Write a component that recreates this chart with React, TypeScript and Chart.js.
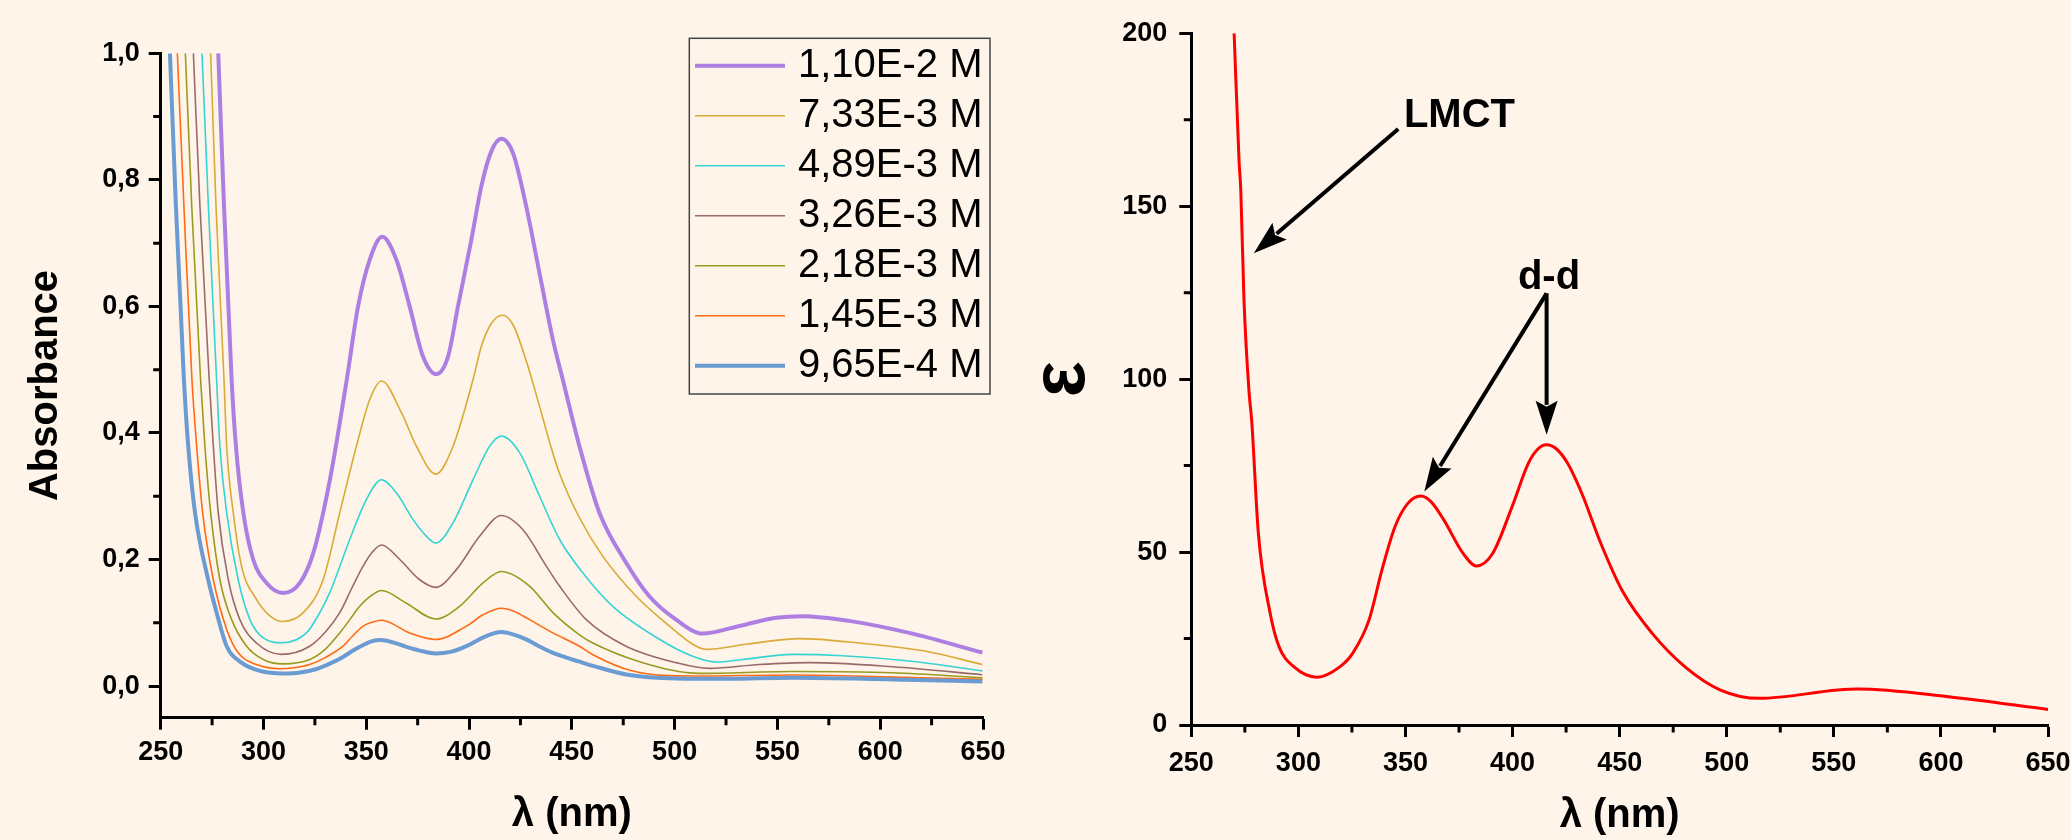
import React, { useEffect, useRef } from 'react';
import { Chart, registerables } from 'chart.js';

Chart.register(...registerables);

const FONT = '"Liberation Sans", Arial, Helvetica, sans-serif';
const W = 2071;
const H = 840;
const BG = '#fef4e9';

// ---------- Left chart data: absorbance vs wavelength ----------
const SERIES_LABELS = ['1,10E-2 M', '7,33E-3 M', '4,89E-3 M', '3,26E-3 M', '2,18E-3 M', '1,45E-3 M', '9,65E-4 M'];

const wl_1_10e2 = [278.0, 280.8, 284.5, 286.6, 290.2, 295, 301.5, 309.6, 317.7, 324.2, 332.3, 340.5, 346, 351.7, 357.8, 364.6, 371.1, 377.6, 384.1, 389.8, 394.6, 401.1, 406, 410.8, 415.7, 421.4, 427.8, 434.3, 440.8, 445.6, 453.7, 463.4, 476.4, 487.7, 500.7, 513.6, 531.5, 549.3, 562.2, 584.9, 614.1, 649.7];
const abs_1_10e2 = [1.0, 0.758, 0.484, 0.379, 0.274, 0.2, 0.163, 0.147, 0.163, 0.21, 0.326, 0.484, 0.6, 0.674, 0.71, 0.674, 0.6, 0.521, 0.493, 0.521, 0.6, 0.705, 0.79, 0.845, 0.865, 0.842, 0.758, 0.652, 0.547, 0.484, 0.379, 0.274, 0.195, 0.142, 0.105, 0.083, 0.095, 0.108, 0.1105, 0.103, 0.084, 0.053];

const wl_7_33e3 = [274.3, 276.9, 280.8, 282.1, 285.3, 289.3, 296.6, 303.1, 309.3, 319.3, 329, 337.1, 345.2, 351.7, 357.4, 367.1, 374.4, 383.8, 392.2, 401.9, 406, 410.8, 416.2, 421.4, 427.8, 434.3, 439.2, 444, 453.7, 465.1, 481.3, 497.4, 508.8, 515.3, 534.7, 560.6, 589.8, 622.2, 649.7];
const abs_7_33e3 = [1.0, 0.758, 0.484, 0.379, 0.274, 0.19, 0.137, 0.111, 0.102, 0.116, 0.168, 0.274, 0.379, 0.453, 0.482, 0.432, 0.379, 0.335, 0.379, 0.484, 0.537, 0.573, 0.586, 0.571, 0.514, 0.442, 0.385, 0.336, 0.266, 0.205, 0.142, 0.095, 0.066, 0.058, 0.066, 0.075, 0.068, 0.055, 0.034];

const wl_4_89e3 = [270.1, 273.2, 277.2, 278.8, 282.1, 287.7, 293.4, 299.9, 309.3, 320.9, 326, 332.3, 337, 342, 350.1, 357.4, 364.7, 372.8, 379.2, 383.8, 392.2, 401.9, 410, 415.7, 424.6, 434.3, 444, 455.3, 469.9, 492.6, 508.8, 520.1, 533.1, 557.4, 581.7, 614.1, 649.7];
const abs_4_89e3 = [1.0, 0.758, 0.484, 0.379, 0.274, 0.168, 0.105, 0.076, 0.0685, 0.084, 0.108, 0.148, 0.188, 0.232, 0.295, 0.326, 0.305, 0.263, 0.237, 0.226, 0.258, 0.326, 0.379, 0.395, 0.369, 0.3, 0.232, 0.179, 0.126, 0.074, 0.047, 0.038, 0.042, 0.05, 0.048, 0.0395, 0.024];

const wl_3_26e3 = [265.9, 269.1, 273.6, 275.6, 278, 282.9, 288.5, 296.6, 308.8, 322.5, 330, 337.1, 343, 348.5, 353, 357.4, 366.3, 376, 383.8, 393.8, 405.2, 415.7, 426.2, 437.5, 444, 457, 476.4, 500.7, 516.9, 541.2, 565.5, 606, 649.7];
const abs_3_26e3 = [1.0, 0.758, 0.484, 0.379, 0.274, 0.168, 0.105, 0.068, 0.05, 0.063, 0.085, 0.116, 0.155, 0.19, 0.212, 0.223, 0.2, 0.168, 0.156, 0.184, 0.237, 0.2695, 0.247, 0.19, 0.158, 0.105, 0.063, 0.037, 0.028, 0.034, 0.037, 0.0305, 0.018];

const wl_2_18e3 = [262, 265.1, 269.4, 271.5, 274.3, 278.8, 284.5, 291.8, 299.9, 309.3, 322.5, 330, 337.1, 342, 346.8, 352, 357.4, 369.5, 383.8, 395.4, 406.8, 415.7, 429.4, 440.8, 453.7, 460.2, 484.5, 512, 557.4, 606, 649.7];
const abs_2_18e3 = [1.0, 0.758, 0.484, 0.379, 0.274, 0.168, 0.105, 0.063, 0.042, 0.035, 0.042, 0.058, 0.084, 0.105, 0.126, 0.142, 0.151, 0.131, 0.106, 0.126, 0.163, 0.181, 0.158, 0.116, 0.081, 0.068, 0.037, 0.02, 0.023, 0.021, 0.013];

const wl_1_45e3 = [258.1, 261.3, 265.2, 267.5, 270.4, 275.6, 282.1, 287.7, 296.6, 308, 315, 322.5, 330, 338.7, 343, 348.5, 352, 357.4, 371.1, 383.8, 398.7, 407, 415.7, 422, 429.4, 440.8, 453.7, 460.2, 479.6, 508.8, 557.4, 606, 649.7];
const abs_1_45e3 = [1.0, 0.758, 0.484, 0.379, 0.274, 0.168, 0.0895, 0.0526, 0.034, 0.0274, 0.029, 0.034, 0.045, 0.063, 0.078, 0.0947, 0.1, 0.104, 0.084, 0.0737, 0.0947, 0.113, 0.123, 0.118, 0.105, 0.084, 0.063, 0.0495, 0.0237, 0.0158, 0.0174, 0.0142, 0.0105];

const wl_9_65e4 = [254.5, 257.4, 261.3, 263.4, 266.7, 273.1, 277.2, 282.1, 289.3, 298.3, 309.6, 318, 325.8, 332, 338.7, 344, 348.5, 352.5, 357, 363, 369.5, 376, 383.8, 391, 398.7, 407, 415.7, 421, 427.8, 434, 440.8, 447, 453.7, 460.2, 476.4, 500.7, 525, 557.4, 606, 649.7];
const abs_9_65e4 = [1.0, 0.758, 0.484, 0.379, 0.274, 0.168, 0.116, 0.063, 0.037, 0.024, 0.02, 0.0215, 0.027, 0.035, 0.046, 0.057, 0.065, 0.0705, 0.0727, 0.069, 0.062, 0.056, 0.0516, 0.054, 0.063, 0.077, 0.0853, 0.082, 0.0737, 0.063, 0.0526, 0.0455, 0.0385, 0.032, 0.0184, 0.0121, 0.0116, 0.0132, 0.0105, 0.0074];

// ---------- Right chart data: molar absorptivity ----------
const wl_eps = [270, 272.3, 273.1, 274.6, 277, 278.2, 281.3, 286.8, 291, 298, 308.7, 319.3, 325.4, 333, 339, 345.1, 351, 357.2, 362, 367.9, 376.9, 383.1, 390.7, 399.7, 407.4, 411.5, 415.9, 420.5, 425.7, 429.5, 433.3, 440.9, 451.5, 465.2, 480.4, 497.1, 515.3, 551.8, 561, 603.5, 650];
const eps = [200, 163, 154.7, 122.9, 96, 88, 55.5, 32.4, 22.6, 16.8, 13.8, 16.8, 20.8, 30.4, 44.8, 57.3, 64, 66.2, 64.5, 59.3, 49.6, 46.0, 49.6, 63, 75.7, 79.6, 81, 79.8, 75.7, 71, 65.5, 53, 38.5, 26.5, 16.9, 10.1, 7.7, 10.1, 10.4, 8.2, 4.5];

// ---------- Ticks ----------
const X_TICKS = [250, 300, 350, 400, 450, 500, 550, 600, 650];
const X_MINOR = [275, 325, 375, 425, 475, 525, 575, 625];
const Y_LEFT_TICKS = [0, 0.2, 0.4, 0.6, 0.8, 1.0];
const Y_LEFT_MINOR = [0.1, 0.3, 0.5, 0.7, 0.9];
const Y_RIGHT_TICKS = [0, 50, 100, 150, 200];
const Y_RIGHT_MINOR = [25, 75, 125, 175];

// ---------- Annotations (data units of right chart) ----------
const NOTE_TEXT = ['LMCT', 'd-d'];
const NOTE_X = [375.2, 417.0];
const NOTE_Y = [176.1, 129.4];
const ARROW_X0 = [346.6, 415.9, 415.9];
const ARROW_Y0 = [172.3, 124.8, 124.8];
const ARROW_X1 = [279.2, 415.9, 358.8];
const ARROW_Y1 = [136.4, 83.9, 67.5];

const COLORS = ['#ad7fe3', '#d9aa35', '#35d4d4', '#9a6a6a', '#9a9a1e', '#ff6a13', '#6a9bd3'];
const WIDTHS = [4, 1.6, 1.6, 1.6, 1.6, 1.6, 4];
const ORDERS = [0, 2, 3, 4, 5, 6, 1];

const pts = (xs: number[], ys: number[]) => xs.map((x, i) => ({ x, y: ys[i] }));

const LEFT_WL = [wl_1_10e2, wl_7_33e3, wl_4_89e3, wl_3_26e3, wl_2_18e3, wl_1_45e3, wl_9_65e4];
const LEFT_ABS = [abs_1_10e2, abs_7_33e3, abs_4_89e3, abs_3_26e3, abs_2_18e3, abs_1_45e3, abs_9_65e4];

const minorTicks = {
  id: 'minorTicks',
  afterDraw(chart: any, _args: any, opts: any) {
    const ctx = chart.ctx;
    const xs = chart.scales.x;
    const ys = chart.scales.y;
    const ca = chart.chartArea;
    ctx.save();
    ctx.strokeStyle = '#000';
    ctx.lineWidth = 3;
    ctx.beginPath();
    for (const v of opts.x || []) {
      const px = xs.getPixelForValue(v);
      ctx.moveTo(px, ca.bottom);
      ctx.lineTo(px, ca.bottom + 7.5);
    }
    for (const v of opts.y || []) {
      const py = ys.getPixelForValue(v);
      ctx.moveTo(ca.left, py);
      ctx.lineTo(ca.left - 7.5, py);
    }
    ctx.stroke();
    ctx.restore();
  },
};

const boxLegend = {
  id: 'boxLegend',
  afterDraw(chart: any, _args: any, opts: any) {
    if (!opts || !opts.show) return;
    const ctx = chart.ctx;
    const { left, top, right, bottom, rowH, lineX0, lineX1, textX } = opts;
    ctx.save();
    ctx.strokeStyle = '#444';
    ctx.lineWidth = 1.5;
    ctx.strokeRect(left, top, right - left, bottom - top);
    ctx.font = `40px ${FONT}`;
    ctx.fillStyle = '#000';
    ctx.textBaseline = 'middle';
    ctx.textAlign = 'left';
    chart.data.datasets.forEach((ds: any, i: number) => {
      const y = top + rowH * 0.55 + i * rowH;
      ctx.strokeStyle = ds.borderColor;
      ctx.lineWidth = ds.borderWidth;
      ctx.beginPath();
      ctx.moveTo(lineX0, y);
      ctx.lineTo(lineX1, y);
      ctx.stroke();
      ctx.fillText(ds.label, textX, y);
    });
    ctx.restore();
  },
};

const notes = {
  id: 'notes',
  afterDraw(chart: any, _args: any, opts: any) {
    if (!opts || !opts.show) return;
    const ctx = chart.ctx;
    const xs = chart.scales.x;
    const ys = chart.scales.y;
    ctx.save();
    ctx.fillStyle = '#000';
    ctx.strokeStyle = '#000';
    ctx.font = `bold 40px ${FONT}`;
    ctx.textAlign = 'center';
    ctx.textBaseline = 'middle';
    NOTE_TEXT.forEach((t, i) => {
      ctx.fillText(t, xs.getPixelForValue(NOTE_X[i]), ys.getPixelForValue(NOTE_Y[i]));
    });
    const headLen = 34;
    const headHalf = 11;
    ctx.lineWidth = 4;
    ARROW_X0.forEach((_, i) => {
      const x0 = xs.getPixelForValue(ARROW_X0[i]);
      const y0 = ys.getPixelForValue(ARROW_Y0[i]);
      const x1 = xs.getPixelForValue(ARROW_X1[i]);
      const y1 = ys.getPixelForValue(ARROW_Y1[i]);
      const dx = x1 - x0;
      const dy = y1 - y0;
      const len = Math.hypot(dx, dy);
      const ux = dx / len;
      const uy = dy / len;
      const bx = x1 - ux * headLen;
      const by = y1 - uy * headLen;
      ctx.beginPath();
      ctx.moveTo(x0, y0);
      ctx.lineTo(bx + ux * 4, by + uy * 4);
      ctx.stroke();
      ctx.beginPath();
      ctx.moveTo(x1, y1);
      ctx.lineTo(bx - uy * headHalf, by + ux * headHalf);
      ctx.lineTo(bx + ux * 6, by + uy * 6);
      ctx.lineTo(bx + uy * headHalf, by - ux * headHalf);
      ctx.closePath();
      ctx.fill();
    });
    ctx.restore();
  },
};

function axisBase(ticksArr: number[], fmt: (v: number) => string, padding: number) {
  return {
    type: 'linear' as const,
    afterBuildTicks: (s: any) => {
      s.ticks = ticksArr.map((v) => ({ value: v }));
    },
    ticks: {
      autoSkip: false,
      maxRotation: 0,
      color: '#000',
      padding,
      font: { family: FONT, size: 27, weight: 'bold' as const },
      callback: (v: any) => fmt(Number(v)),
    },
    grid: {
      display: true,
      drawOnChartArea: false,
      drawTicks: true,
      tickLength: 12,
      tickWidth: 3,
      tickColor: '#000',
    },
    border: { display: true, width: 3, color: '#000' },
  };
}

function makeConfig(side: 'left' | 'right'): any {
  const isLeft = side === 'left';
  const area = isLeft
    ? { left: 160.7, right: 983, top: 53.3, bottom: 717.7, padLeft: 0 }
    : { left: 1191.3, right: 2048, top: 33.3, bottom: 725, padLeft: 1020 };

  const datasets = isLeft
    ? SERIES_LABELS.map((label, i) => ({
        label,
        data: pts(LEFT_WL[i], LEFT_ABS[i]),
        borderColor: COLORS[i],
        borderWidth: WIDTHS[i],
        order: ORDERS[i],
        pointRadius: 0,
        fill: false,
        tension: 0.4,
        cubicInterpolationMode: 'monotone',
      }))
    : [
        {
          label: 'ε',
          data: pts(wl_eps, eps),
          borderColor: '#ff0000',
          borderWidth: 3,
          pointRadius: 0,
          fill: false,
          tension: 0.4,
          cubicInterpolationMode: 'monotone',
        },
      ];

  const xAxis: any = {
    ...axisBase(X_TICKS, (v) => String(v), isLeft ? 7 : 10),
    position: 'bottom',
    min: 250,
    max: 650,
    afterFit: (s: any) => {
      s.height = H - area.bottom;
      s.paddingLeft = 0;
      s.paddingRight = 0;
    },
    title: {
      display: true,
      text: 'λ (nm)',
      color: '#000',
      font: { family: FONT, size: 40, weight: 'bold', lineHeight: 1.2 },
      padding: { top: 0, bottom: isLeft ? 1 : 0 },
    },
  };

  const yAxis: any = {
    ...axisBase(
      isLeft ? Y_LEFT_TICKS : Y_RIGHT_TICKS,
      isLeft ? (v) => v.toFixed(1).replace('.', ',') : (v) => String(v),
      isLeft ? 9 : 12
    ),
    position: 'left',
    min: isLeft ? -0.05 : 0,
    max: isLeft ? 1.0 : 200,
    afterFit: (s: any) => {
      s.width = area.left - area.padLeft;
      s.paddingTop = 0;
      s.paddingBottom = 0;
    },
    title: {
      display: true,
      text: isLeft ? 'Absorbance' : 'ε',
      color: '#000',
      font: isLeft
        ? { family: FONT, size: 40, weight: 'bold', lineHeight: 1.2 }
        : { family: FONT, size: 76, weight: 'bold', lineHeight: 1 },
      padding: { top: isLeft ? 22 : 5, bottom: 0 },
    },
  };

  return {
    type: 'line',
    data: { datasets },
    options: {
      animation: false,
      responsive: false,
      devicePixelRatio: 1,
      events: [],
      layout: {
        padding: { left: area.padLeft, top: area.top, right: W - area.right, bottom: 0 },
      },
      plugins: {
        legend: { display: false },
        tooltip: { enabled: false },
        title: { display: false },
        minorTicks: { x: X_MINOR, y: isLeft ? Y_LEFT_MINOR : Y_RIGHT_MINOR },
        boxLegend: {
          show: isLeft,
          left: 689.3,
          top: 38.3,
          right: 990,
          bottom: 394,
          rowH: 50,
          lineX0: 695,
          lineX1: 785,
          textX: 798,
        },
        notes: { show: !isLeft },
      },
      scales: { x: xAxis, y: yAxis },
    },
    plugins: [minorTicks, boxLegend, notes],
  };
}

export default function App() {
  const leftRef = useRef<HTMLCanvasElement>(null);
  const rightRef = useRef<HTMLCanvasElement>(null);

  useEffect(() => {
    const c1 = new Chart(leftRef.current as HTMLCanvasElement, makeConfig('left'));
    const c2 = new Chart(rightRef.current as HTMLCanvasElement, makeConfig('right'));
    return () => {
      c1.destroy();
      c2.destroy();
    };
  }, []);

  return (
    <div
      style={{
        position: 'fixed',
        left: 0,
        top: 0,
        width: W,
        height: H,
        background: BG,
        overflow: 'hidden',
      }}
    >
      <canvas ref={leftRef} width={W} height={H} style={{ position: 'absolute', left: 0, top: 0 }} />
      <canvas ref={rightRef} width={W} height={H} style={{ position: 'absolute', left: 0, top: 0 }} />
    </div>
  );
}
